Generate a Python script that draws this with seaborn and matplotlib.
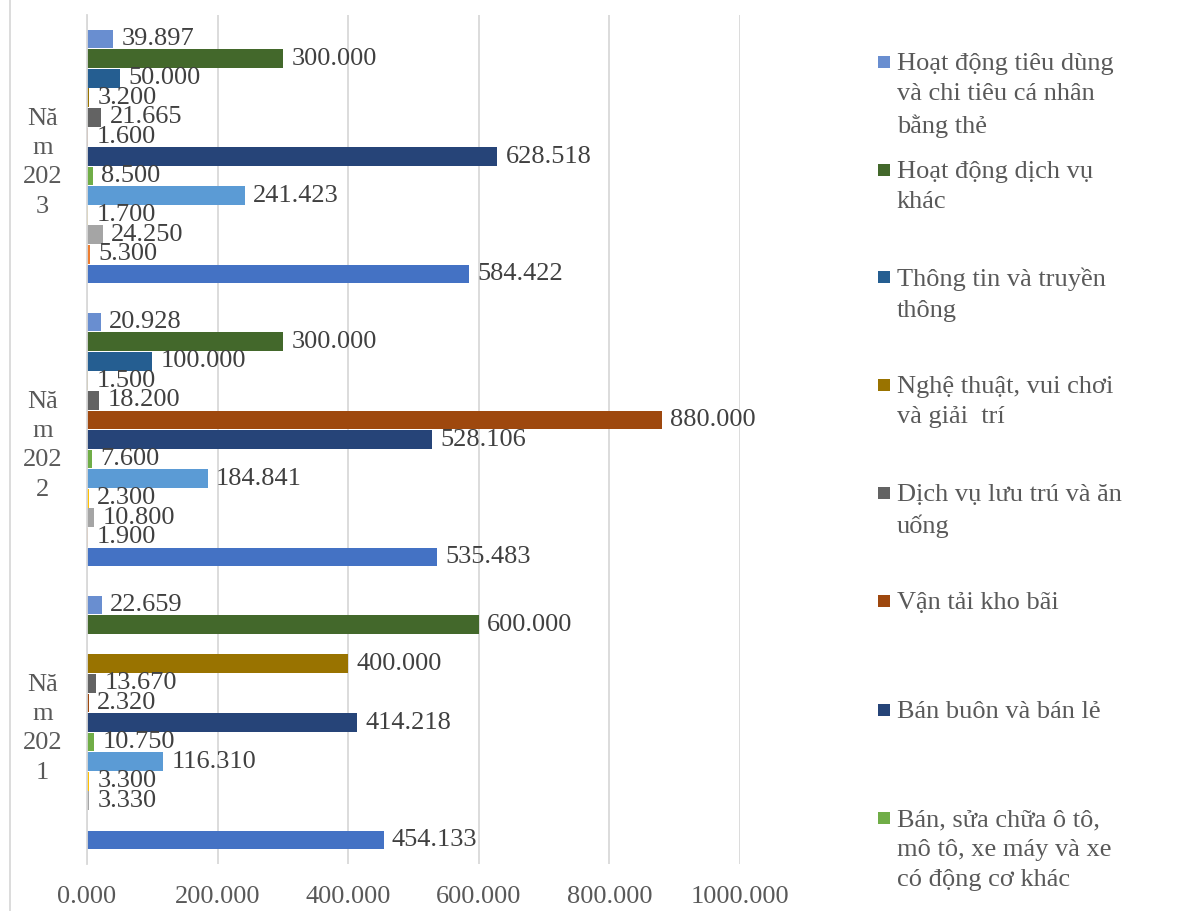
import numpy as np
import pandas as pd
import matplotlib
matplotlib.use("Agg")
import matplotlib.pyplot as plt
from matplotlib.patches import Rectangle
from matplotlib.lines import Line2D
import seaborn as sns

years = ["Năm 2021", "Năm 2022", "Năm 2023"]
year_labels = ["Nă\nm\n202\n1", "Nă\nm\n202\n2", "Nă\nm\n202\n3"]

series = [
    "Công nghiệp chế biến, chế tạo",
    "Khai khoáng",
    "Sản xuất và phân phối điện",
    "Xây dựng",
    "Nông, lâm nghiệp và thủy sản",
    "Bán, sửa chữa ô tô,\nmô tô, xe máy và xe\ncó động cơ khác",
    "Bán buôn và bán lẻ",
    "Vận tải kho bãi",
    "Dịch vụ lưu trú và ăn\nuống",
    "Nghệ thuật, vui chơi\nvà giải  trí",
    "Thông tin và truyền\nthông",
    "Hoạt động dịch vụ\nkhác",
    "Hoạt động tiêu dùng\nvà chi tiêu cá nhân\nbằng thẻ",
]
colors = ["#4472C4", "#ED7D31", "#A5A5A5", "#FFC000", "#5B9BD5", "#70AD47",
          "#264478", "#9E480E", "#636363", "#997300", "#255E91", "#43682B", "#698ED0"]

v2021 = [454.133, np.nan, 3.330, 3.300, 116.310, 10.750, 414.218, 2.320, 13.670, 400.000, np.nan, 600.000, 22.659]
v2022 = [535.483, 1.900, 10.800, 2.300, 184.841, 7.600, 528.106, 880.000, 18.200, 1.500, 100.000, 300.000, 20.928]
v2023 = [584.422, 5.300, 24.250, 1.700, 241.423, 8.500, 628.518, 1.600, 21.665, 3.200, 50.000, 300.000, 39.897]

xticks = [0, 200, 400, 600, 800, 1000]

rows = []
for yr, vals in zip(years, [v2021, v2022, v2023]):
    for s, v in zip(series, vals):
        rows.append({"year": yr, "series": s, "value": v})
df = pd.DataFrame(rows)

sns.set_theme(style="white")
plt.rcParams["font.family"] = ["Liberation Serif", "DejaVu Serif"]

W, H = 1202, 911
fig = plt.figure(figsize=(W / 100, H / 100), dpi=100)
ax = fig.add_axes([87 / W, 1 - 864 / H, (740 - 87) / W, (864 - 15) / H])

order = years[::-1]
hue_order = series[::-1]
palette = dict(zip(series, colors))

sns.barplot(data=df, y="year", x="value", hue="series", order=order,
            hue_order=hue_order, palette=palette, orient="h",
            width=0.9, gap=0.04, saturation=1, legend=False, ax=ax,
            edgecolor="none", err_kws={"linewidth": 0})

for c in ax.containers:
    labels = [f"{v:.3f}" if np.isfinite(v) else "" for v in c.datavalues]
    ax.bar_label(c, labels=labels, padding=6, fontsize=19, color="#404040")

ax.set_xlim(0, 1000)
ax.set_ylim(2.5, -0.5)
ax.set_xticks(xticks)
ax.set_xticklabels([f"{t:.3f}" for t in xticks])
ax.set_yticks([0, 1, 2])
ax.set_yticklabels([year_labels[years.index(y)] for y in order])
ax.set_yticks([-0.5, 0.5, 1.5, 2.5], minor=True)
ax.set_xlabel("")
ax.set_ylabel("")

ax.grid(axis="x", color="#D9D9D9", linewidth=1.3)
ax.grid(axis="y", visible=False)
ax.set_axisbelow(True)
for sp in ["top", "right", "bottom"]:
    ax.spines[sp].set_visible(False)
ax.spines["left"].set_color("#D9D9D9")
ax.spines["left"].set_linewidth(1.3)

ax.tick_params(axis="x", length=0, pad=16, labelsize=19, labelcolor="#595959")
ax.tick_params(axis="y", which="major", length=0, pad=32, labelsize=19, labelcolor="#595959")
ax.tick_params(axis="y", which="minor", length=5, width=1.3, color="#D9D9D9")
for t in ax.get_yticklabels():
    t.set_horizontalalignment("center")
    t.set_linespacing(1.44)

# Legend (first 8 entries visible, top to bottom)
leg_ids = [12, 11, 10, 9, 8, 7, 6, 5]
ys = [62, 170, 277, 385, 493, 601, 710, 818]
for i, yy in zip(leg_ids, ys):
    fig.add_artist(Rectangle((878 / W, 1 - (yy + 6) / H), 12 / W, 12 / H,
                             transform=fig.transFigure, facecolor=colors[i],
                             edgecolor="none"))
    fig.text(897 / W, 1 - (yy - 9) / H, series[i], fontsize=19, color="#595959",
             va="top", ha="left", linespacing=1.48)

fig.add_artist(Line2D([10 / W, 10 / W], [0, 1], transform=fig.transFigure,
                      color="#D9D9D9", linewidth=1.3))

fig.savefig("out.png", dpi=100)
